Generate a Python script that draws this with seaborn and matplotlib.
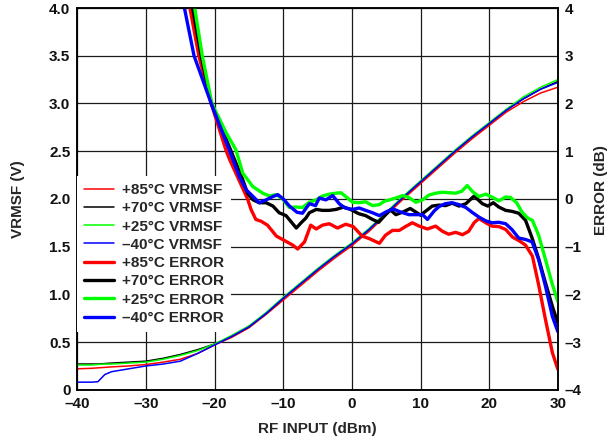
import matplotlib
matplotlib.use("Agg")
import matplotlib.pyplot as plt
from matplotlib.lines import Line2D
import seaborn as sns
import numpy as np

# VRMSF (left axis, V) vs RF input (dBm)
vrms_x = [-40, -38, -37, -36, -35, -32.5, -30, -27.5, -25, -22.5, -20, -17.5, -15, -12.5,
          -10, -7.5, -5, -2.5, 0, 2.5, 5, 7.5, 10, 12.5, 15, 17.5, 20, 22.5, 25, 27.5, 30]
vrms_85 = [0.22, 0.225, 0.23, 0.235, 0.24, 0.25, 0.265, 0.29, 0.32, 0.38, 0.47, 0.55, 0.65, 0.79,
           0.94, 1.09, 1.24, 1.38, 1.51, 1.66, 1.83, 2.00, 2.16, 2.32, 2.48, 2.63, 2.77, 2.91, 3.02, 3.11, 3.17]
vrms_70 = [0.27, 0.27, 0.27, 0.275, 0.28, 0.29, 0.30, 0.33, 0.37, 0.42, 0.48, 0.56, 0.66, 0.80,
           0.96, 1.11, 1.26, 1.40, 1.53, 1.68, 1.85, 2.02, 2.18, 2.34, 2.50, 2.65, 2.79, 2.93, 3.05, 3.15, 3.23]
vrms_25 = [0.26, 0.26, 0.265, 0.27, 0.27, 0.28, 0.29, 0.32, 0.36, 0.41, 0.48, 0.57, 0.67, 0.81,
           0.97, 1.12, 1.27, 1.41, 1.54, 1.69, 1.86, 2.03, 2.19, 2.35, 2.51, 2.66, 2.80, 2.94, 3.07, 3.17, 3.25]
vrms_m40 = [0.08, 0.08, 0.085, 0.16, 0.19, 0.22, 0.25, 0.27, 0.30, 0.38, 0.47, 0.56, 0.66, 0.80,
            0.96, 1.11, 1.26, 1.40, 1.53, 1.68, 1.85, 2.02, 2.18, 2.34, 2.50, 2.65, 2.79, 2.93, 3.05, 3.15, 3.22]

# ERROR (right axis, dB) -- each curve read on its own x points
err85_x = [-23.9, -23.6, -22.3, -20.5, -18.3, -17.8, -15.2, -14.7, -14.0, -13.2, -12.3, -11.0, -10.1,
           -8.6, -7.9, -6.9, -6.0, -5.2, -4.3, -3.3, -2.1, -0.9, 0.2, 1.5, 2.5, 4.0, 4.9, 5.9, 6.9,
           7.8, 8.8, 9.8, 11.0, 12.2, 13.2, 14.1, 15.1, 16.1, 17.0, 17.8, 18.5, 19.5, 20.4, 21.4,
           22.4, 23.4, 24.4, 25.3, 26.3, 27.2, 28.2, 29.2, 30.0]
err85 = [4.3, 4.0, 3.0, 2.0, 1.0, 0.82, 0.0, -0.22, -0.43, -0.47, -0.55, -0.78, -0.85,
         -0.97, -1.05, -0.90, -0.55, -0.63, -0.55, -0.52, -0.61, -0.53, -0.58, -0.78, -0.83, -0.93, -0.76, -0.66, -0.66,
         -0.58, -0.50, -0.57, -0.63, -0.57, -0.68, -0.74, -0.70, -0.75, -0.68, -0.50, -0.41, -0.50, -0.57, -0.58,
         -0.64, -0.80, -0.88, -0.97, -1.20, -1.80, -2.53, -3.22, -3.57]

err70_x = [-23.5, -23.2, -21.95, -20.5, -17.6, -15.9, -15.2, -14.4, -13.5, -12.5, -11.5, -10.6, -9.6,
           -8.1, -7.4, -6.7, -6.2, -5.2, -4.3, -3.3, -2.3, -1.2, -0.2, 1.0, 2.0, 3.0, 3.9, 4.9, 5.6,
           6.4, 7.5, 8.5, 10.0, 11.7, 12.7, 13.65, 14.6, 15.6, 16.6, 17.8, 19.0, 19.8, 20.6, 21.4,
           22.4, 23.3, 24.3, 25.3, 26.25, 27.2, 28.2, 29.2, 30.0]
err70 = [4.3, 4.0, 3.0, 2.0, 1.0, 0.40, 0.12, -0.02, -0.08, -0.08, -0.15, -0.29, -0.35,
         -0.61, -0.50, -0.40, -0.29, -0.22, -0.24, -0.24, -0.22, -0.17, -0.22, -0.31, -0.35, -0.43, -0.49, -0.33, -0.23,
         -0.33, -0.27, -0.20, -0.34, -0.15, -0.13, -0.14, -0.09, -0.15, -0.10, 0.06, -0.10, -0.15, -0.08, -0.17,
         -0.24, -0.26, -0.30, -0.45, -0.82, -1.25, -1.76, -2.25, -2.60]

err25_x = [-23.2, -22.9, -21.8, -20.4, -18.3, -16.9, -15.9, -14.45, -13.0, -12.0, -11.05, -10.1, -9.1,
           -8.1, -7.2, -6.2, -5.2, -4.3, -3.3, -2.3, -1.6, -0.9, 0.1, 1.06, 2.0, 3.0, 4.0, 4.7, 5.5,
           6.4, 7.4, 8.3, 9.3, 10.3, 11.2, 12.2, 13.2, 14.1, 15.1, 16.0, 16.8, 17.6, 18.5, 19.5,
           20.4, 21.4, 22.4, 23.1, 24.0, 24.8, 25.6, 26.3, 27.2, 28.2, 29.2, 30.0]
err25 = [4.3, 4.0, 3.0, 2.0, 1.38, 1.03, 0.54, 0.26, 0.12, 0.06, 0.09, 0.0, -0.18,
         -0.17, -0.18, -0.07, -0.02, 0.06, 0.10, 0.12, 0.13, 0.05, -0.07, -0.08, -0.06, -0.14, -0.12, -0.05, -0.02,
         0.02, 0.07, 0.03, -0.07, -0.02, 0.08, 0.12, 0.14, 0.13, 0.12, 0.16, 0.28, 0.15, 0.05, 0.10,
         0.04, -0.04, 0.04, 0.03, -0.08, -0.28, -0.40, -0.45, -0.76, -1.27, -1.79, -2.15]

errm40_x = [-24.7, -24.4, -23.0, -20.5, -17.8, -16.4, -15.4, -14.4, -13.5, -12.5, -11.5, -10.8, -10.0,
            -9.1, -8.0, -7.2, -6.2, -5.3, -4.75, -3.8, -2.8, -1.85, -1.0, 0.1, 1.06, 2.0, 3.0, 4.0, 5.0,
            6.0, 7.0, 8.3, 9.5, 10.3, 11.0, 12.0, 12.7, 13.6, 14.6, 15.6, 16.6, 17.5, 18.5, 19.5,
            20.4, 21.4, 22.4, 23.3, 24.3, 25.3, 26.25, 27.2, 28.2, 29.2, 30.0]
errm40 = [4.3, 4.0, 3.0, 2.0, 1.0, 0.47, 0.19, 0.05, -0.08, -0.02, 0.05, 0.09, 0.0,
          -0.15, -0.28, -0.30, -0.10, -0.14, 0.02, -0.02, 0.07, -0.10, -0.19, -0.22, -0.19, -0.24, -0.29, -0.35, -0.27,
          -0.21, -0.27, -0.33, -0.33, -0.33, -0.43, -0.25, -0.16, -0.10, -0.08, -0.12, -0.18, -0.28, -0.38, -0.46,
          -0.50, -0.49, -0.52, -0.64, -0.82, -0.85, -0.90, -1.27, -1.83, -2.46, -2.78]

colors = ["#FF0000", "#000000", "#00FF00", "#0000FF"]
temps = ["+85°C", "+70°C", "+25°C", "–40°C"]

x_ticks = [-40, -30, -20, -10, 0, 10, 20, 30]
x_tick_labels = ["–40", "–30", "–20", "–10", "0", "10", "20", "30"]
left_ticks = [0, 0.5, 1.0, 1.5, 2.0, 2.5, 3.0, 3.5, 4.0]
left_tick_labels = ["0", "0.5", "1.0", "1.5", "2.0", "2.5", "3.0", "3.5", "4.0"]
right_ticks = [-4, -3, -2, -1, 0, 1, 2, 3, 4]
right_tick_labels = ["–4", "–3", "–2", "–1", "0", "1", "2", "3", "4"]

sns.set_theme(style="white")
plt.rcParams["font.family"] = ["Liberation Sans", "DejaVu Sans"]
plt.rcParams["font.weight"] = "bold"

fig, ax = plt.subplots(figsize=(6.09, 4.46), dpi=100)
fig.subplots_adjust(left=0.127, right=0.916, top=0.982, bottom=0.126)
ax2 = ax.twinx()

vrms_sets = [vrms_85, vrms_70, vrms_25, vrms_m40]
err_sets = [(err85_x, err85), (err70_x, err70), (err25_x, err25), (errm40_x, errm40)]

for vals, c in zip(vrms_sets, colors):
    sns.lineplot(x=vrms_x, y=vals, ax=ax, color=c, lw=1.1, estimator=None, legend=False)
for (ex, ev), c in zip(err_sets, colors):
    sns.lineplot(x=ex, y=ev, ax=ax2, color=c, lw=2.4, estimator=None, legend=False)

ax.set_xlim(-40, 30)
ax.set_ylim(0, 4)
ax2.set_ylim(-4, 4)
ax.set_xticks(x_ticks)
ax.set_xticklabels(x_tick_labels)
ax.set_yticks(left_ticks)
ax.set_yticklabels(left_tick_labels)
ax2.set_yticks(right_ticks)
ax2.set_yticklabels(right_tick_labels)

ax.grid(True, color="#1a1a1a", lw=0.9)
ax2.grid(False)
for a in (ax, ax2):
    a.tick_params(length=0, labelsize=11, pad=5, colors="#111111")
    for s in a.spines.values():
        s.set_color("black")
        s.set_linewidth(1.1)

ax.set_xlabel("RF INPUT (dBm)", fontsize=11, fontweight="bold", labelpad=8)
ax.set_ylabel("VRMSF (V)", fontsize=11, fontweight="bold", labelpad=17.5)
ax2.set_ylabel("ERROR (dB)", fontsize=11, fontweight="bold", labelpad=9)
ax2.yaxis.label.set_y(0.524)

handles = []
labels = []
for t, c in zip(temps, colors):
    handles.append(Line2D([], [], color=c, lw=1.1))
    labels.append(t + " VRMSF")
for t, c in zip(temps, colors):
    handles.append(Line2D([], [], color=c, lw=2.4))
    labels.append(t + " ERROR")
leg = ax2.legend(handles, labels, loc="lower left", bbox_to_anchor=(0, 0.152),
                 borderaxespad=0, frameon=True, facecolor="white", edgecolor="none",
                 framealpha=1, fancybox=False, prop={"weight": "bold", "size": 11},
                 handlelength=1.95, handletextpad=0.5, labelspacing=0.28, borderpad=0.45)

fig.savefig("out.png", dpi=100)
